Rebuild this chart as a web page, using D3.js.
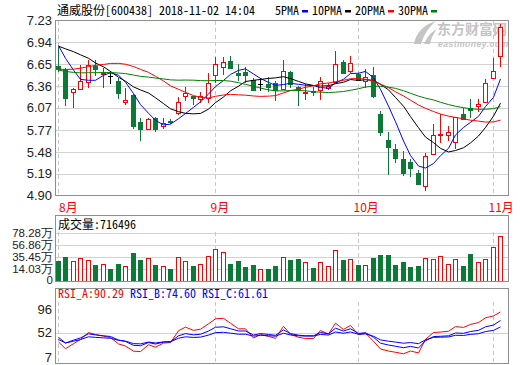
<!DOCTYPE html>
<html>
<head>
<meta charset="utf-8">
<script src="https://cdn.jsdelivr.net/npm/d3@7"></script>
<style>
  html, body { margin: 0; padding: 0; background: #fff; }
  svg { display: block; }
</style>
</head>
<body>
<div id="chart"></div>
<script>
// Chart values
const stockTitle = '通威股份[600438] 2018-11-02 14:04';
const lastVolume = 716496;

// closes before the window (only used to warm up the MA / RSI lines)
const julyCloses = [6.75, 6.70, 6.62, 6.58, 6.55, 6.50, 6.48, 6.45, 6.42, 6.40,
    6.30, 6.22, 6.18, 6.22, 6.25, 6.28, 6.22, 6.25, 6.40, 6.45,
    6.55, 6.70, 6.85, 7.10, 7.20, 7.05, 7.10, 7.05, 6.70];

const opens = [6.62, 6.58, 6.28, 6.32, 6.41, 6.63, 6.52, 6.49, 6.43, 6.14,
    6.24, 5.88, 5.79, 5.93, 5.83, 5.89, 6.00, 6.22, 6.22, 6.19,
    6.20, 6.51, 6.61, 6.69, 6.53, 6.54, 6.44, 6.38, 6.38, 6.40,
    6.32, 6.55, 6.35, 6.27, 6.29, 6.30, 6.33, 6.41, 6.68, 6.56,
    6.52, 6.43, 6.50, 5.99, 5.64, 5.52, 5.39, 5.35, 5.20, 5.02,
    5.45, 5.71, 5.71, 5.61, 5.98, 6.06, 6.09, 6.15, 6.46, 6.76];
const highs = [6.88, 6.60, 6.33, 6.64, 6.71, 6.70, 6.60, 6.56, 6.47, 6.33,
    6.25, 5.93, 5.93, 5.94, 5.93, 5.92, 6.21, 6.34, 6.23, 6.28,
    6.53, 6.74, 6.74, 6.76, 6.65, 6.61, 6.47, 6.47, 6.48, 6.43,
    6.70, 6.56, 6.36, 6.38, 6.35, 6.48, 6.40, 6.82, 6.70, 6.76,
    6.53, 6.58, 6.61, 6.03, 5.74, 5.59, 5.49, 5.39, 5.24, 5.46,
    5.85, 5.99, 5.83, 5.95, 6.06, 6.19, 6.18, 6.45, 6.73, 7.18];
const lows = [6.55, 6.09, 6.06, 6.32, 6.33, 6.49, 6.33, 6.38, 6.19, 6.11,
    5.78, 5.63, 5.78, 5.74, 5.78, 5.85, 5.97, 6.16, 6.10, 6.13,
    6.13, 6.40, 6.50, 6.59, 6.43, 6.40, 6.30, 6.29, 6.28, 6.16,
    6.31, 6.33, 6.09, 6.17, 6.22, 6.17, 6.31, 6.40, 6.52, 6.53,
    6.42, 6.33, 6.20, 5.69, 5.17, 5.33, 5.16, 5.14, 5.04, 4.96,
    5.44, 5.60, 5.62, 5.52, 5.91, 5.93, 6.01, 6.14, 6.45, 6.61];
const closes = [6.58, 6.20, 6.32, 6.43, 6.64, 6.58, 6.53, 6.49, 6.27, 6.17,
    5.83, 5.79, 5.92, 5.79, 5.87, 5.88, 6.15, 6.27, 6.20, 6.23,
    6.40, 6.65, 6.68, 6.60, 6.50, 6.50, 6.31, 6.38, 6.34, 6.30,
    6.56, 6.39, 6.31, 6.28, 6.28, 6.42, 6.36, 6.65, 6.53, 6.66,
    6.44, 6.48, 6.23, 5.75, 5.55, 5.40, 5.20, 5.26, 5.05, 5.42,
    5.70, 5.72, 5.75, 5.94, 5.92, 6.04, 6.12, 6.40, 6.56, 7.14];
// volume, 万股
const volumes = [28.4, 35.4, 28.0, 33.1, 29.6, 21.5, 22.7, 14.0, 23.2, 19.2,
    42.3, 30.2, 33.1, 21.5, 19.2, 14.5, 34.9, 28.0, 19.7, 22.7,
    36.6, 48.8, 43.5, 23.2, 28.4, 18.0, 21.5, 14.0, 14.5, 19.7,
    34.9, 30.2, 31.9, 26.2, 16.3, 26.2, 19.2, 47.0, 30.2, 31.4,
    21.5, 21.5, 33.6, 38.9, 38.9, 21.5, 26.7, 18.0, 19.7, 33.6,
    31.4, 36.6, 23.2, 31.4, 19.7, 40.6, 26.7, 31.4, 52.2, 71.65];

const monthLabels = ['8月', '9月', '10月', '11月'];
const monthStart = [0, 21, 40, 58];

const priceTicks = [7.23, 6.94, 6.65, 6.36, 6.07, 5.77, 5.48, 5.19, 4.90];
const volTicks = [78.28, 56.86, 35.45, 14.03];
const rsiTicks = [96, 52, 7];

const maNames = ['5PMA', '10PMA', '20PMA', '30PMA'];
const maPeriods = [5, 10, 20, 30];
const rsiNames = ['RSI_A', 'RSI_B', 'RSI_C'];
const rsiPeriods = [6, 12, 24];
const rsiLast = ['90.29', '74.60', '61.61'];

// colours
const RED = '#ff0000';
const GREEN = '#0a7a36';
const maColors = ['#0000ff', '#000000', '#ff0000', '#008000'];
const rsiColors = ['#ff0000', '#0000ff', '#0000ff'];
const GRID = '#d2d2d2';
const FRAME = '#8e8e8e';

const monoFont = "'Noto Sans Mono CJK SC', 'Noto Sans CJK SC', monospace";
const labelFont = "'Liberation Sans', Arial, sans-serif";

const width = 520;
const height = 365;
const left = 55.5;
const right = 508.5;

const svg = d3.select('#chart')
    .append('svg')
    .attr('width', width)
    .attr('height', height);

const n = closes.length;
const allCloses = julyCloses.concat(closes);
const pre = julyCloses.length;

// scales
const x = d3.scaleBand()
    .domain(d3.range(n))
    .range([54.25, 504.25])
    .paddingInner(0.27)
    .paddingOuter(0.135);
const cx = i => Math.floor(x(i) + x.bandwidth() / 2) + 0.5;

const y = d3.scaleLinear().domain([4.90, 7.23]).range([195.5, 20.5]);
const volStep = (volTicks[0] - volTicks[3]) / 3;
const yVol = d3.scaleLinear().domain([volTicks[3] - volStep, volTicks[0]]).range([281.5, 232.5]);
const yRsi = d3.scaleLinear().domain([7, 96]).range([357, 309]);

// moving averages and RSI
function movingAverage(p) {
    return closes.map((c, i) => d3.mean(allCloses.slice(pre + i - p + 1, pre + i + 1)));
}

function rsiSeries(p) {
    let up = 0, all = 0;
    const out = [];
    for (let k = 1; k < allCloses.length; k++) {
        const d = allCloses[k] - allCloses[k - 1];
        if (k === 1) {
            up = Math.max(d, 0);
            all = Math.abs(d);
        } else {
            up = (Math.max(d, 0) + (p - 1) * up) / p;
            all = (Math.abs(d) + (p - 1) * all) / p;
        }
        if (k >= pre) out.push(all ? up / all * 100 : 50);
    }
    return out;
}

// ---------- main panel ----------
svg.append('defs').append('clipPath').attr('id', 'clipMain')
    .append('rect').attr('x', left).attr('y', 20.5).attr('width', right - left).attr('height', 175);

const main = svg.append('g');

main.selectAll('.hgrid')
    .data(priceTicks.slice(1, -1))
    .enter()
    .append('line')
    .attr('x1', left).attr('x2', right)
    .attr('y1', d => Math.round(y(d)) + 0.5)
    .attr('y2', d => Math.round(y(d)) + 0.5)
    .style('stroke', GRID);

function monthLines(g, y1, y2) {
    g.selectAll('.vgrid')
        .data(monthStart)
        .enter()
        .append('line')
        .attr('x1', d => cx(d)).attr('x2', d => cx(d))
        .attr('y1', y1).attr('y2', y2)
        .style('stroke', '#c8c8c8')
        .style('stroke-dasharray', '4,3');
}
monthLines(main, 21, 195);

// watermark
const wm = main.append('g').style('fill', '#c4c4c4');
wm.append('path')
    .attr('d', 'M414,44 C416,33 423,25 436,21 C429,27 424,34 421,44 Z M424,44 C427,37 431,32 437,29 C433,34 431,39 430,44 Z');
wm.append('text')
    .attr('x', 437).attr('y', 34)
    .text('东方财富网')
    .style('font-family', "'Noto Sans CJK SC', sans-serif")
    .style('font-weight', 'bold')
    .style('font-size', '14px');
wm.append('text')
    .attr('x', 438).attr('y', 46.5)
    .text('eastmoney.com')
    .style('font-family', labelFont)
    .style('font-weight', 'bold')
    .style('font-style', 'italic')
    .style('font-size', '8.5px')
    .attr('textLength', 70);

// candles
const candles = main.selectAll('.candle')
    .data(closes.map((c, i) => ({ i, o: opens[i], h: highs[i], l: lows[i], c })))
    .enter()
    .append('g')
    .attr('class', 'candle');

const candleColor = d => d.c > d.o ? RED : (d.c < d.o ? GREEN : '#000');

candles.append('line')
    .attr('x1', d => cx(d.i)).attr('x2', d => cx(d.i))
    .attr('y1', d => y(d.h)).attr('y2', d => y(d.l))
    .style('stroke', candleColor)
    .style('shape-rendering', 'crispEdges');

candles.filter(d => d.c !== d.o)
    .append('rect')
    .attr('x', d => cx(d.i) - 2)
    .attr('width', 4)
    .attr('y', d => Math.round(y(Math.max(d.o, d.c))) + 0.5)
    .attr('height', d => Math.max(1, Math.round(y(Math.min(d.o, d.c))) - Math.round(y(Math.max(d.o, d.c)))))
    .style('fill', d => d.c > d.o ? '#fff' : GREEN)
    .style('stroke', candleColor)
    .style('shape-rendering', 'crispEdges');

candles.filter(d => d.c === d.o)
    .append('line')
    .attr('x1', d => cx(d.i) - 2.5).attr('x2', d => cx(d.i) + 2.5)
    .attr('y1', d => Math.round(y(d.c)) + 0.5).attr('y2', d => Math.round(y(d.c)) + 0.5)
    .style('stroke', '#000');

// moving averages
const maLine = d3.line().x((d, i) => cx(i)).y(d => y(d));
main.append('g')
    .attr('clip-path', 'url(#clipMain)')
    .selectAll('path')
    .data(maPeriods.map(movingAverage))
    .enter()
    .append('path')
    .attr('d', maLine)
    .style('fill', 'none')
    .style('stroke', (d, k) => maColors[k])
    .style('stroke-width', 1);

main.append('rect')
    .attr('x', left).attr('y', 20.5)
    .attr('width', right - left).attr('height', 175)
    .style('fill', 'none')
    .style('stroke', FRAME);

main.selectAll('.ylab')
    .data(priceTicks)
    .enter()
    .append('text')
    .attr('x', 52)
    .attr('y', d => y(d))
    .attr('dy', '0.36em')
    .attr('text-anchor', 'end')
    .text(d => d.toFixed(2))
    .style('font-family', labelFont)
    .style('font-size', '13px')
    .style('fill', '#222');

// month labels
main.selectAll('.mlab')
    .data(monthStart)
    .enter()
    .append('text')
    .attr('x', d => Math.max(59, cx(d) - 5))
    .attr('y', 212)
    .text((d, k) => monthLabels[k])
    .style('font-family', "'Noto Sans CJK SC', sans-serif")
    .style('font-size', '12px')
    .style('fill', RED);

// title and legend
svg.append('text')
    .attr('x', 57).attr('y', 14.5)
    .text(stockTitle)
    .style('font-family', monoFont)
    .style('font-size', '12px')
    .style('fill', '#000');

let lx = 275;
maNames.forEach((name, k) => {
    const t = svg.append('text')
        .attr('x', lx).attr('y', 14.5)
        .text(name)
        .style('font-family', monoFont)
        .style('font-size', '12px')
        .style('fill', '#000');
    const w = t.node().getComputedTextLength();
    svg.append('rect')
        .attr('x', Math.round(lx + w + 3)).attr('y', 10)
        .attr('width', 6).attr('height', 2.5)
        .style('fill', maColors[k]);
    lx = lx + w + 13;
});

// ---------- volume panel ----------
const vol = svg.append('g');

vol.append('line')
    .attr('x1', left).attr('x2', right)
    .attr('y1', 215.5).attr('y2', 215.5)
    .style('stroke', FRAME);

vol.selectAll('.hgrid')
    .data(volTicks)
    .enter()
    .append('line')
    .attr('x1', left).attr('x2', right)
    .attr('y1', d => Math.round(yVol(d)) + 0.5)
    .attr('y2', d => Math.round(yVol(d)) + 0.5)
    .style('stroke', GRID);

monthLines(vol, 232, 281);

const volUp = i => closes[i] > opens[i] ||
    (closes[i] === opens[i] && closes[i] >= allCloses[pre + i - 1]);

vol.selectAll('.vbar')
    .data(volumes)
    .enter()
    .append('rect')
    .attr('x', (d, i) => cx(i) - 2)
    .attr('width', 4)
    .attr('y', d => Math.round(yVol(d)) + 0.5)
    .attr('height', d => Math.round(yVol.range()[0]) - Math.round(yVol(d)) - 1)
    .style('fill', (d, i) => volUp(i) ? '#fff' : GREEN)
    .style('stroke', (d, i) => volUp(i) ? RED : GREEN)
    .style('shape-rendering', 'crispEdges');

vol.append('rect')
    .attr('x', left).attr('y', 215.5)
    .attr('width', right - left).attr('height', 66)
    .style('fill', 'none')
    .style('stroke', FRAME);

vol.selectAll('.ylab')
    .data(volTicks)
    .enter()
    .append('text')
    .attr('x', 53)
    .attr('y', d => yVol(d))
    .attr('dy', '0.35em')
    .attr('text-anchor', 'end')
    .text(d => d.toFixed(2) + '万')
    .style('font-family', labelFont)
    .style('font-size', '11.5px')
    .style('fill', '#222');

vol.append('text')
    .attr('x', 53).attr('y', 280)
    .attr('dy', '0.35em')
    .attr('text-anchor', 'end')
    .text('0')
    .style('font-family', labelFont)
    .style('font-size', '11.5px')
    .style('fill', '#222');

vol.append('text')
    .attr('x', 58).attr('y', 228.5)
    .text('成交量:' + lastVolume)
    .style('font-family', monoFont)
    .style('font-size', '12px')
    .style('fill', '#000');

// ---------- RSI panel ----------
const rsi = svg.append('g');

rsi.append('line')
    .attr('x1', left).attr('x2', right)
    .attr('y1', Math.round(yRsi(52)) + 0.5).attr('y2', Math.round(yRsi(52)) + 0.5)
    .style('stroke', GRID);

monthLines(rsi, 302, 363);

const rsiLine = d3.line().x((d, i) => cx(i)).y(d => yRsi(d));
rsi.selectAll('.rsi')
    .data(rsiPeriods.map(rsiSeries))
    .enter()
    .append('path')
    .attr('d', rsiLine)
    .style('fill', 'none')
    .style('stroke', (d, k) => rsiColors[k])
    .style('stroke-width', 1);

rsi.append('rect')
    .attr('x', left).attr('y', 288.5)
    .attr('width', right - left).attr('height', 75)
    .style('fill', 'none')
    .style('stroke', FRAME);

rsi.selectAll('.ylab')
    .data(rsiTicks)
    .enter()
    .append('text')
    .attr('x', 52)
    .attr('y', d => yRsi(d))
    .attr('dy', '0.36em')
    .attr('text-anchor', 'end')
    .text(d => d)
    .style('font-family', labelFont)
    .style('font-size', '13px')
    .style('fill', '#222');

let rx = 58;
rsiNames.forEach((name, k) => {
    const t = rsi.append('text')
        .attr('x', rx).attr('y', 298)
        .text(name + ':' + rsiLast[k])
        .style('font-family', monoFont)
        .style('font-size', '12px')
        .style('fill', rsiColors[k]);
    rx += t.node().getComputedTextLength() + 6;
});
</script>
</body>
</html>
